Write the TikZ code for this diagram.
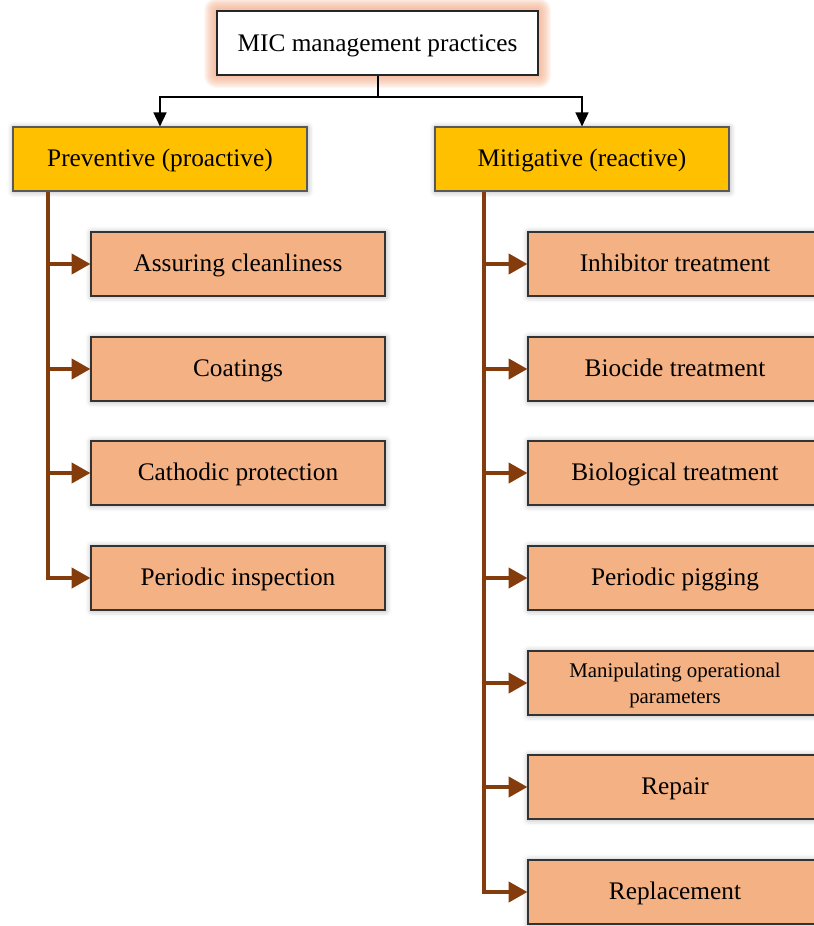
\documentclass[tikz,border=0pt]{standalone}
\usepackage{fontspec}
\setmainfont{Liberation Serif}
\usetikzlibrary{arrows.meta,shadows.blur,calc}
\definecolor{gold}{HTML}{FFC000}
\definecolor{peach}{HTML}{F4B183}
\definecolor{rust}{HTML}{843C0C}
\definecolor{glow}{HTML}{F1A57F}
\tikzset{
  box/.style={draw=black!80, line width=0.9pt, minimum width=8.82cm, minimum height=1.92cm,
    inner sep=2pt, align=center, font=\fontsize{21.6}{26}\selectfont,
    text height=16.5pt, text depth=3.5pt,
    blur shadow={shadow xshift=0.5pt, shadow yshift=-0.5pt, shadow blur radius=5pt, shadow opacity=35}},
  rootbox/.style={draw=black!85, line width=0.9pt, fill=white, minimum width=9.63cm,
    minimum height=1.92cm, font=\fontsize{21.6}{26}\selectfont,
    text height=17pt, text depth=2.5pt},
  groupbox/.style={box, fill=gold, draw=black!65},
  itembox/.style={box, fill=peach},
  smalltext/.style={font=\fontsize{17.8}{22.2}\selectfont, text height=, text depth=, yshift=-2pt},
  link/.style={draw=black, line width=1.7pt, -{Triangle[length=12pt,width=11pt]}},
  trunk/.style={draw=rust, line width=3.4pt},
  branch/.style={draw=rust, line width=3.4pt, -{Triangle[length=16pt,width=17pt]}},
}
\begin{document}
\begin{tikzpicture}[x=0.03cm, y=-0.03cm]
\useasboundingbox (0,0) rectangle (813,926);

% soft glow round the root box, laid down before the box itself
\foreach \r in {1,...,13}{
  \fill[glow, opacity=0.09, rounded corners=\r*0.8pt]
    (217-\r,11-\r) rectangle (538+\r,75+\r);
}

% root and the two groups
\node[rootbox] (root) at (377.5,43) {MIC management practices};
\node[groupbox] (prev) at (160,159) {Preventive (proactive)};
\node[groupbox] (miti) at (582,159) {Mitigative (reactive)};

% preventive practices
\node[itembox] (p1) at (238,264) {Assuring cleanliness};
\node[itembox] (p2) at (238,369) {Coatings};
\node[itembox] (p3) at (238,473) {Cathodic protection};
\node[itembox] (p4) at (238,578) {Periodic inspection};

% mitigative practices
\node[itembox] (m1) at (675,264) {Inhibitor treatment};
\node[itembox] (m2) at (675,369) {Biocide treatment};
\node[itembox] (m3) at (675,473) {Biological treatment};
\node[itembox] (m4) at (675,578) {Periodic pigging};
\node[itembox] (m5) at (675,683) {};
\node[smalltext, align=center, inner sep=0pt] (m5t) at (m5.center) {Manipulating operational\\parameters};
\node[itembox] (m6) at (675,787) {Repair};
\node[itembox] (m7) at (675,892) {Replacement};

% root to groups
\draw[line width=1.7pt] (root.south) -- ++(0,21) coordinate (split);
\draw[link] (split) -| (prev.north);
\draw[link] (split) -| (miti.north);

% trunks
\coordinate (pt) at ($(prev.south west)+(36,0)$);
\coordinate (mt) at ($(miti.south west)+(50,0)$);
\draw[trunk] (pt) -- (pt |- p4.west);
\draw[trunk] (mt) -- (mt |- m7.west);

% branches
\foreach \n in {p1,p2,p3,p4}{
  \draw[branch] ([xshift=-1.7pt]pt |- \n.west) -- (\n.west);
}
\foreach \n in {m1,m2,m3,m4,m5,m6,m7}{
  \draw[branch] ([xshift=-1.7pt]mt |- \n.west) -- (\n.west);
}
\end{tikzpicture}
\end{document}
